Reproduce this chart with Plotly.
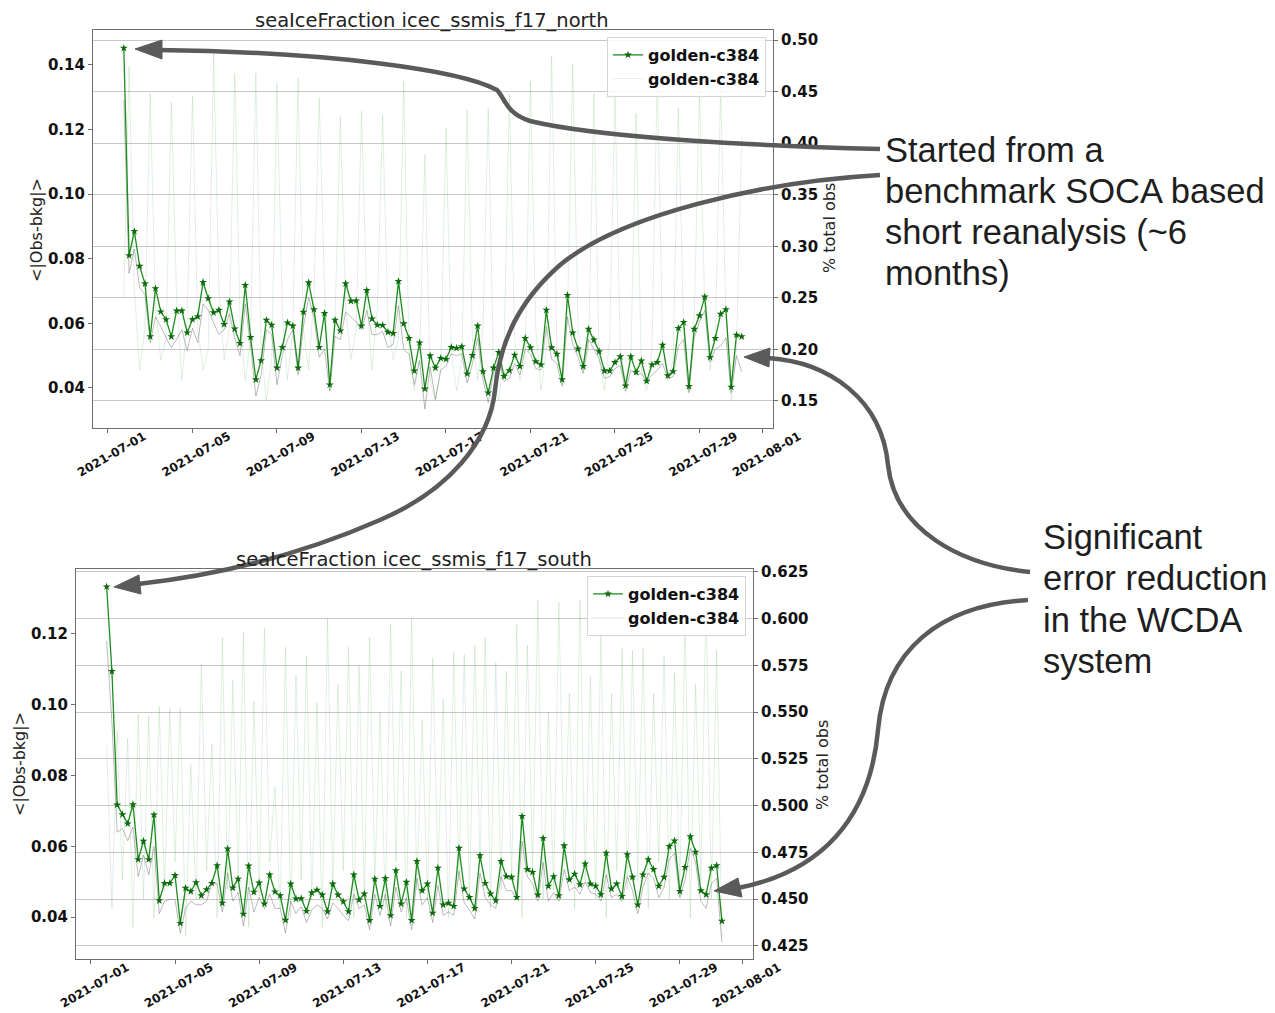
import pandas as pd
import plotly.graph_objects as go

W, H = 1275, 1013

# ---------------- data ----------------
times = pd.date_range("2021-07-01 18:00", periods=118, freq="6h")

north_obs_bkg = [
    .1452, .0810, .0885, .0777, .0723, .0559, .0708, .0636, .0612, .0559,
    .0639, .0639, .0571, .0612, .0621, .0727, .0677, .0633, .0641, .0597,
    .0667, .0583, .0538, .0718, .0557, .0426, .0485, .0610, .0595, .0462,
    .0526, .0602, .0592, .0462, .0635, .0726, .0643, .0526, .0631, .0410,
    .0610, .0577, .0723, .0669, .0670, .0592, .0702, .0614, .0595, .0594,
    .0573, .0569, .0730, .0599, .0554, .0453, .0540, .0397, .0500, .0462,
    .0492, .0489, .0526, .0523, .0528, .0444, .0501, .0592, .0451, .0385,
    .0462, .0510, .0436, .0454, .0502, .0467, .0554, .0525, .0482, .0472,
    .0641, .0525, .0505, .0426, .0687, .0571, .0521, .0467, .0582, .0549,
    .0513, .0453, .0453, .0479, .0497, .0407, .0497, .0449, .0484, .0421,
    .0472, .0479, .0533, .0438, .0451, .0585, .0603, .0405, .0582, .0624,
    .0682, .0495, .0554, .0629, .0643, .0403, .0564, .0559]

north_grey = [
    .129, .0755, .083, .071, .069, .054, .062, .059, .0555, .0525,
    .055, .058, .0515, .0585, .054, .066, .064, .060, .0565, .058,
    .063, .0555, .050, .066, .053, .0375, .044, .058, .0565, .041,
    .050, .055, .058, .044, .059, .068, .062, .0495, .052, .039,
    .056, .055, .0635, .062, .0605, .058, .064, .0565, .0565, .0575,
    .0525, .0535, .0655, .052, .0505, .041, .0485, .0335, .0465, .0365,
    .0455, .0468, .0505, .050, .0505, .0415, .0475, .0555, .0425, .0355,
    .0445, .049, .042, .043, .0475, .044, .052, .0505, .046, .0455,
    .059, .049, .0475, .0405, .062, .0535, .0495, .0445, .055, .052,
    .049, .043, .0435, .046, .047, .039, .0455, .044, .0445, .042,
    .044, .0455, .0475, .043, .0435, .053, .055, .0385, .0555, .0605,
    .064, .048, .052, .053, .0555, .0385, .050, .045]

north_pct_obs = [
    .25,
    .474, .26, .18, .22, .448, .24, .19, .21, .440, .25, .17, .23,
    .446, .22, .18, .20, .487, .26, .19, .22, .468, .23, .17, .21,
    .468, .20, .15, .19, .458, .24, .17, .22, .463, .22, .18, .25,
    .444, .26, .16, .23, .426, .24, .19, .22, .431, .25, .18, .24,
    .427, .23, .19, .21, .460, .20, .16, .19, .389, .17, .15, .18,
    .414, .20, .16, .19, .432, .21, .17, .22, .434, .18, .15, .20,
    .447, .21, .17, .19, .460, .22, .16, .20, .485, .20, .17, .23,
    .477, .22, .18, .20, .448, .19, .16, .21, .447, .20, .17, .19,
    .429, .18, .16, .20, .466, .21, .17, .19, .434, .22, .16, .23,
    .450, .24, .18, .21, .455, .23, .15, .20,
    .408]

south_obs_bkg = [
    .1333, .1094,
    .0717, .0690, .0664, .0718, .0563, .0615, .0563, .0689, .0447, .0496,
    .0496, .0518, .0383, .0482, .0473, .0498, .0461, .0478, .0496, .0546,
    .0440, .0593, .0483, .0508, .0409, .0545, .0471, .0497, .0438, .0520,
    .0472, .0461, .0392, .0494, .0452, .0453, .0417, .0469, .0477, .0463,
    .0416, .0494, .0463, .0444, .0416, .0520, .0449, .0466, .0391, .0508,
    .0431, .0510, .0405, .0532,
    .0438, .0499, .0391, .0558, .0475, .0494, .0412, .0539, .0435, .0440,
    .0431, .0595, .0480, .0456, .0425, .0574, .0496, .0466, .0447, .0558,
    .0515, .0513, .0456, .0685, .0535, .0527, .0463, .0623, .0488, .0515,
    .0461, .0602, .0506, .0522, .0492, .0551, .0494, .0488, .0464, .0581,
    .0480, .0494, .0459, .0577, .0513, .0435, .0520, .0563, .0535, .0488,
    .0513, .0600, .0616, .0473, .0541, .0628, .0584, .0475, .0464, .0539,
    .0546, .0389]

south_grey = [
    .118, .095, .064, .065, .0616, .0655, .0515, .0575, .052, .060,
    .041, .0445, .045, .045, .0355, .0425, .0445, .0435, .0435, .0445,
    .0495, .0495, .0415, .0525, .0445, .047, .0375, .0485, .0415, .0455,
    .0425, .0465, .0425, .0425, .0355, .0445, .041, .043, .0385, .042,
    .0435, .0425, .0395, .044, .0425, .0405, .039, .0465, .0425, .0435,
    .0365, .0465, .0405, .0465, .0375, .0485, .0415, .0455, .0365, .051,
    .0435, .0455, .0385, .049, .0405, .0415, .0405, .053, .044, .042,
    .0395, .0525, .0455, .0435, .0425, .0515, .0475, .0475, .045, .0615,
    .0515, .0495, .0445, .0555, .0445, .047, .0445, .0535, .0475, .0485,
    .0465, .050, .047, .0465, .0445, .052, .0455, .0465, .0445, .0515,
    .0475, .041, .0485, .0525, .051, .0455, .0485, .0565, .058, .0455,
    .0505, .0595, .0555, .0445, .0425, .0495, .051, .033]

south_pct_obs = [
    .532, .445, .540, .460, .536, .435, .549, .450, .548, .440,
    .553, .455, .552, .470, .552, .430, .522, .450, .576, .465,
    .533, .440, .590, .455, .567, .460, .593, .435, .556, .450,
    .595, .470, .510, .445, .585, .440, .570, .460, .580, .450,
    .555, .435, .600, .455, .565, .465, .585, .440, .575, .450,
    .590, .460, .550, .445, .597, .470, .572, .440, .600, .455,
    .546, .450, .579, .465, .557, .440, .582, .460, .581, .450,
    .586, .470, .590, .445, .577, .455, .572, .460, .597, .440,
    .586, .465, .610, .450, .550, .455, .609, .470, .560, .445,
    .610, .460, .569, .450, .592, .440, .560, .465, .584, .455,
    .583, .460, .584, .445, .560, .470, .580, .450, .571, .455,
    .600, .440, .565, .460, .613, .450, .583, .430]

series_name = "golden-c384"
date_ticks = ["2021-07-01", "2021-07-05", "2021-07-09", "2021-07-13", "2021-07-17",
              "2021-07-21", "2021-07-25", "2021-07-29", "2021-08-01"]
north_left_ticks = [0.04, 0.06, 0.08, 0.10, 0.12, 0.14]
north_right_ticks = [0.15, 0.20, 0.25, 0.30, 0.35, 0.40, 0.45, 0.50]
south_left_ticks = [0.04, 0.06, 0.08, 0.10, 0.12]
south_right_ticks = [0.425, 0.450, 0.475, 0.500, 0.525, 0.550, 0.575, 0.600, 0.625]

# ---------------- helpers (page pixel -> paper); page body has an 8px margin ----------------
OFF = 8


def PX(x):
    return (x - OFF) / W


def PY(y):
    return 1 - (y - OFF) / H


def path(cmds):
    out = []
    for c in cmds:
        letter, pts = c[0], c[1:]
        coords = []
        for k in range(0, len(pts), 2):
            coords.append(f"{PX(pts[k]):.5f},{PY(pts[k+1]):.5f}")
        out.append(letter + " " + " ".join(coords))
    return " ".join(out)


GREEN = "#1e8c1e"
MARK = "#0b6b0b"
FAINT = "rgba(0,128,0,0.12)"
GREY = "rgba(120,120,120,0.5)"
FONT = "DejaVu Sans"

fig = go.Figure()

# north
fig.add_trace(go.Scatter(x=times, y=north_grey, mode="lines", xaxis="x", yaxis="y",
                         line=dict(color=GREY, width=1), showlegend=False, hoverinfo="skip"))
fig.add_trace(go.Scatter(x=times, y=north_obs_bkg, mode="lines+markers", xaxis="x", yaxis="y",
                         name=series_name, legend="legend",
                         line=dict(color=GREEN, width=1.3),
                         marker=dict(symbol="star", size=6, color=MARK)))
fig.add_trace(go.Scatter(x=times, y=north_pct_obs, mode="lines", xaxis="x", yaxis="y2",
                         name=series_name, legend="legend",
                         line=dict(color=FAINT, width=1)))
# south
fig.add_trace(go.Scatter(x=times, y=south_grey, mode="lines", xaxis="x2", yaxis="y3",
                         line=dict(color=GREY, width=1), showlegend=False, hoverinfo="skip"))
fig.add_trace(go.Scatter(x=times, y=south_obs_bkg, mode="lines+markers", xaxis="x2", yaxis="y3",
                         name=series_name, legend="legend2",
                         line=dict(color=GREEN, width=1.3),
                         marker=dict(symbol="star", size=6, color=MARK)))
fig.add_trace(go.Scatter(x=times, y=south_pct_obs, mode="lines", xaxis="x2", yaxis="y4",
                         name=series_name, legend="legend2",
                         line=dict(color=FAINT, width=1)))

AXCOL = "#6e6e6e"
xrange_ = ["2021-06-30 07:00", "2021-08-01 11:30"]
TICKFONT = dict(family=FONT, size=15, color="#111", weight="bold")


def xaxis(domain, anchor):
    return dict(domain=domain, anchor=anchor, type="date", range=xrange_,
                tickvals=date_ticks, ticktext=date_ticks, tickangle=-30,
                ticklabelshift=36, ticklabelstandoff=-8, automargin=False,
                tickfont=dict(family=FONT, size=12, color="#111", weight="bold"),
                ticks="outside", ticklen=4, tickcolor=AXCOL,
                showline=True, linecolor=AXCOL, linewidth=1.2, mirror=True,
                showgrid=False, zeroline=False)


def yleft(domain, anchor, rng, vals, fmt):
    return dict(domain=domain, anchor=anchor, range=rng, tickvals=vals,
                ticktext=[format(v, fmt) for v in vals], automargin=False,
                tickfont=TICKFONT, ticks="outside", ticklen=4, tickcolor=AXCOL,
                showline=True, linecolor=AXCOL, linewidth=1.2,
                showgrid=False, zeroline=False)


def yright(over, anchor, rng, vals, fmt):
    return dict(overlaying=over, side="right", anchor=anchor, range=rng, tickvals=vals,
                ticktext=[format(v, fmt) for v in vals], automargin=False,
                tickfont=TICKFONT, ticks="outside", ticklen=4, tickcolor=AXCOL,
                showline=True, linecolor=AXCOL, linewidth=1.2,
                showgrid=True, gridcolor="#c8c8c8", gridwidth=1, zeroline=False)


top_x = [PX(93), PX(773)]
top_y = [PY(428), PY(30)]
bot_x = [PX(76), PX(753)]
bot_y = [PY(959), PY(569)]

legend_style = dict(xanchor="right", yanchor="top", bgcolor="rgba(255,255,255,0.85)",
                    bordercolor="#d5d5d5", borderwidth=1,
                    font=dict(family=FONT, size=16, color="#111", weight="bold"),
                    tracegroupgap=0)

fig.update_layout(
    width=W, height=H, margin=dict(l=0, r=0, t=0, b=0, pad=0, autoexpand=False),
    paper_bgcolor="white", plot_bgcolor="white",
    xaxis=xaxis(top_x, "y"),
    yaxis=yleft(top_y, "x", [0.0276, 0.1508], north_left_ticks, ".2f"),
    yaxis2=yright("y", "x", [0.1238, 0.5097], north_right_ticks, ".2f"),
    xaxis2=xaxis(bot_x, "y3"),
    yaxis3=yleft(bot_y, "x2", [0.0282, 0.1383], south_left_ticks, ".2f"),
    yaxis4=yright("y3", "x2", [0.418, 0.6266], south_right_ticks, ".3f"),
    legend=dict(x=PX(766), y=PY(37), **legend_style),
    legend2=dict(x=PX(746), y=PY(576), **legend_style),
    showlegend=True,
)

ann = []
# titles
ann.append(dict(x=PX(432), y=PY(21), text="seaIceFraction icec_ssmis_f17_north",
                font=dict(family=FONT, size=19.5, color="#222")))
ann.append(dict(x=PX(414), y=PY(559), text="seaIceFraction icec_ssmis_f17_south",
                font=dict(family=FONT, size=19.5, color="#222")))
# axis titles
for (x, y, t) in [(36, 230, "<|Obs-bkg|>"), (19, 764, "<|Obs-bkg|>"),
                  (830, 228, "% total obs"), (822, 765, "% total obs")]:
    ann.append(dict(x=PX(x), y=PY(y), text=t, textangle=-90,
                    font=dict(family=FONT, size=16, color="#222")))
# callout texts
for (y, t) in [(150, "Started from a"), (191, "benchmark SOCA based"),
               (232, "short reanalysis (~6"), (273, "months)")]:
    ann.append(dict(x=PX(883), y=PY(y), text=t, xanchor="left",
                    font=dict(family="Liberation Sans", size=34.5, color="#1e1e1e")))
for (y, t) in [(537, "Significant"), (578, "error reduction"),
               (620, "in the WCDA"), (661, "system")]:
    ann.append(dict(x=PX(1041), y=PY(y), text=t, xanchor="left",
                    font=dict(family="Liberation Sans", size=34.5, color="#1e1e1e")))
for a in ann:
    a.update(xref="paper", yref="paper", showarrow=False)
    a.setdefault("xanchor", "center")
    a.setdefault("yanchor", "middle")
fig.update_layout(annotations=ann)

ARROW = "#5a5a5a"
curves = [
    [("M", 880, 149), ("C", 760, 146, 600, 138, 530, 121), ("C", 506, 113, 506, 100, 497, 90),
     ("C", 460, 70, 330, 52, 158, 50)],
    [("M", 880, 175), ("C", 760, 182, 620, 215, 560, 265), ("C", 520, 300, 500, 340, 495, 390),
     ("C", 490, 440, 450, 490, 380, 520), ("C", 300, 555, 220, 575, 138, 584)],
    [("M", 1030, 572), ("C", 960, 565, 895, 530, 888, 465), ("C", 882, 400, 830, 362, 768, 358)],
    [("M", 1028, 600), ("C", 940, 605, 885, 650, 878, 730), ("C", 870, 820, 820, 872, 738, 888)],
]
heads = [
    [("M", 135, 49), ("L", 162, 40), ("L", 162, 59), ("Z",)],
    [("M", 114, 587), ("L", 139, 575), ("L", 141, 594), ("Z",)],
    [("M", 744, 357), ("L", 770, 348), ("L", 769, 367), ("Z",)],
    [("M", 714, 891), ("L", 738, 878), ("L", 742, 897), ("Z",)],
]
shapes = []
for c in curves:
    shapes.append(dict(type="path", xref="paper", yref="paper", path=path(c),
                       line=dict(color=ARROW, width=4.5), layer="above"))
for h in heads:
    shapes.append(dict(type="path", xref="paper", yref="paper", path=path(h),
                       fillcolor=ARROW, line=dict(color=ARROW, width=1), layer="above"))
fig.update_layout(shapes=shapes)

fig.write_html("out.html")
